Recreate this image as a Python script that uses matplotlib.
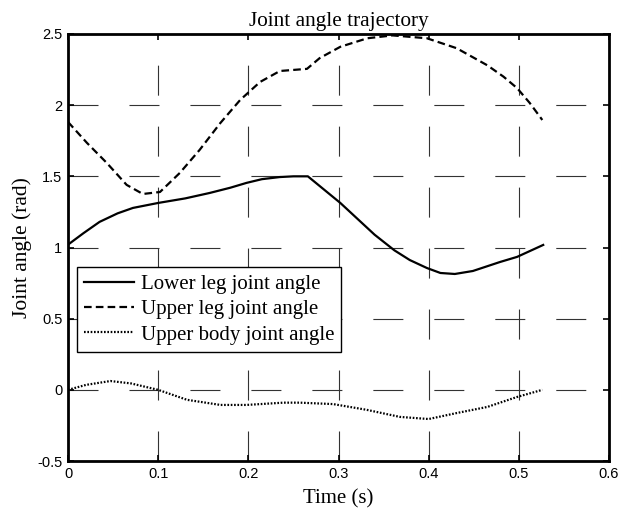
import matplotlib
matplotlib.use("Agg")
import matplotlib.pyplot as plt

# values
t_lower = [0, 0.017, 0.035, 0.055, 0.072, 0.1, 0.13, 0.157, 0.18, 0.198, 0.215, 0.235, 0.25, 0.266,
           0.302, 0.34, 0.362, 0.379, 0.398, 0.413, 0.429, 0.449, 0.479, 0.498, 0.527]
lower_leg = [1.02, 1.10, 1.18, 1.24, 1.278, 1.313, 1.345, 1.383, 1.42, 1.454, 1.48, 1.495, 1.50, 1.50,
             1.313, 1.09, 0.98, 0.912, 0.856, 0.821, 0.814, 0.835, 0.898, 0.934, 1.018]

t_upper = [0, 0.021, 0.043, 0.065, 0.083, 0.102, 0.124, 0.146, 0.169, 0.191, 0.213, 0.235, 0.265,
           0.279, 0.302, 0.332, 0.36, 0.398, 0.431, 0.465, 0.483, 0.498, 0.512, 0.526]
upper_leg = [1.882, 1.735, 1.594, 1.44, 1.376, 1.39, 1.524, 1.686, 1.875, 2.037, 2.163, 2.24, 2.255,
             2.33, 2.41, 2.47, 2.49, 2.47, 2.40, 2.28, 2.20, 2.12, 2.016, 1.896]

t_body = [0, 0.02, 0.047, 0.07, 0.1, 0.132, 0.169, 0.198, 0.239, 0.257, 0.294, 0.331, 0.368, 0.4,
          0.431, 0.465, 0.498, 0.526]
upper_body = [0.0, 0.035, 0.062, 0.045, 0.0, -0.07, -0.106, -0.106, -0.09, -0.09, -0.1, -0.14, -0.19,
              -0.205, -0.163, -0.12, -0.05, 0.0]

xticks = [0, 0.1, 0.2, 0.3, 0.4, 0.5, 0.6]
yticks = [-0.5, 0, 0.5, 1, 1.5, 2, 2.5]

plt.rcParams['lines.scale_dashes'] = False
serif = ['Liberation Serif', 'DejaVu Serif']
sans = ['Liberation Sans', 'DejaVu Sans']

fig = plt.figure(figsize=(6.2, 5.11), dpi=100)
ax = fig.add_axes([0.1097, 0.0978, 0.8726, 0.8357])

ax.plot(t_lower, lower_leg, color='black', lw=1.6, ls='-', label='Lower leg joint angle')
ax.plot(t_upper, upper_leg, color='black', lw=1.6, ls=(0, (5.5, 3)), label='Upper leg joint angle')
ax.plot(t_body, upper_body, color='black', lw=1.6, ls=(0, (1.2, 1.2)), label='Upper body joint angle')

ax.set_xlim(0, 0.6)
ax.set_ylim(-0.5, 2.5)
ax.set_xticks(xticks)
ax.set_yticks(yticks)
ax.set_xticklabels([('%g' % v) for v in xticks], family=sans, fontsize=10.5)
ax.set_yticklabels([('%g' % v) for v in yticks], family=sans, fontsize=10.5)
ax.tick_params(direction='in', top=True, right=True, length=4, width=1.2, pad=4, color='black')
ax.grid(True, color='0.2', lw=0.8, ls=(0, (21.6, 22.3)))
for sp in ax.spines.values():
    sp.set_linewidth(2)

ax.set_title('Joint angle trajectory', family=serif, fontsize=15.3, pad=6)
ax.set_xlabel('Time (s)', family=serif, fontsize=15, labelpad=6)
ax.set_ylabel('Joint angle (rad)', family=serif, fontsize=15.5, labelpad=4)

leg = ax.legend(loc='upper left', bbox_to_anchor=(0.0166, 0.4543), borderaxespad=0,
                prop={'family': serif, 'size': 15}, handlelength=2.4, handletextpad=0.3,
                fancybox=False, framealpha=1, edgecolor='black', labelspacing=0.28,
                borderpad=0.35)
leg.get_frame().set_linewidth(1)

fig.savefig('out.png', dpi=100, facecolor='white')
